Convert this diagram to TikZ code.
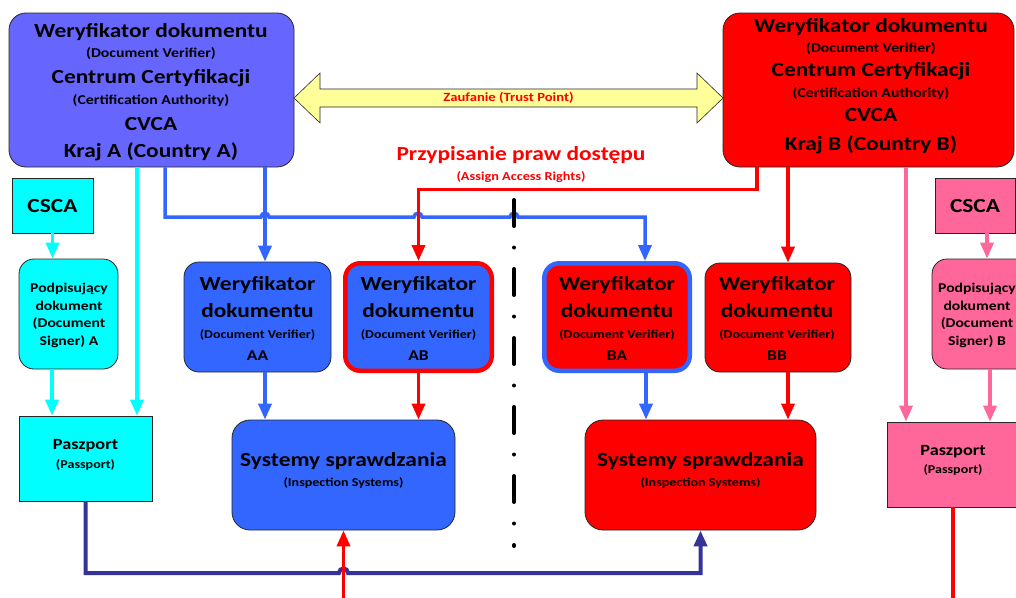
\documentclass[tikz,border=0pt]{standalone}
\usepackage{fontspec}
\setmainfont{Carlito}[FakeStretch=1.17]
\usetikzlibrary{arrows.meta}
\definecolor{cvafill}{HTML}{6666FF}
\definecolor{dvblue}{HTML}{3366FF}
\definecolor{dvred}{HTML}{FF0000}
\definecolor{aqua}{HTML}{00FFFF}
\definecolor{rose}{HTML}{FF6699}
\definecolor{navy}{HTML}{333399}
\definecolor{trustyellow}{HTML}{FFFF99}
\definecolor{edge}{HTML}{262626}
\begin{document}
\begin{tikzpicture}[x=1pt,y=-1pt,
  box/.style={draw=edge, line width=0.8pt, inner sep=0pt, rectangle},
  rbox/.style={box, rounded corners=#1},
  txt/.style={anchor=base, inner sep=0pt, outer sep=0pt, font={\fontsize{#1}{#1}\selectfont\bfseries}},
  flow/.style={line width=3.5pt, -{Triangle[width=13pt,length=16pt]}},
  plain/.style={line width=3.5pt},
]
\useasboundingbox (0,0) rectangle (1016,597);
\clip (0,0) rectangle (1016,597);

% ---------- boxes ----------
\node[rbox=17pt, fill=cvafill, minimum width=285pt, minimum height=154pt] (cvA) at (151.5,90) {};
\node[rbox=17pt, fill=dvred, minimum width=291pt, minimum height=154pt] (cvB) at (868.5,90) {};

\node[box, fill=aqua, minimum width=81pt, minimum height=55pt] (cscaA) at (52.5,205.5) {};
\node[rbox=15pt, fill=aqua, minimum width=99pt, minimum height=110pt] (sigA) at (68.5,314) {};
\node[box, fill=aqua, minimum width=133pt, minimum height=85pt] (pasA) at (85.5,458.5) {};

\node[box, fill=rose, minimum width=80pt, minimum height=55pt] (cscaB) at (975,205.5) {};
\node[rbox=15pt, fill=rose, minimum width=99pt, minimum height=110pt] (sigB) at (981.5,314) {};
\node[box, fill=rose, minimum width=132pt, minimum height=85pt] (pasB) at (953,464.5) {};

\node[rbox=15pt, fill=dvblue, minimum width=147pt, minimum height=110pt] (dvAA) at (257.5,317) {};
\node[rbox=15pt, fill=dvblue, draw=dvred, line width=4.5pt, minimum width=146.5pt, minimum height=107.5pt] (dvAB) at (418.5,317) {};
\node[rbox=15pt, fill=dvred, draw=dvblue, line width=4.5pt, minimum width=145.5pt, minimum height=107.5pt] (dvBA) at (617,317) {};
\node[rbox=15pt, fill=dvred, minimum width=146pt, minimum height=109pt] (dvBB) at (778,317.5) {};

\node[rbox=18pt, fill=dvblue, minimum width=223pt, minimum height=110pt] (isA) at (343.5,475) {};
\node[rbox=18pt, fill=dvred, minimum width=231pt, minimum height=110pt] (isB) at (700.5,475) {};

% ---------- trust arrow between the two CVCAs ----------
\draw[fill=trustyellow, draw=edge, line width=0.6pt]
  (294,98) -- (320,73) -- (320,89) -- (697,89) -- (697,73) -- (723,98)
  -- (697,123) -- (697,107) -- (320,107) -- (320,123) -- cycle;
\node[txt=12.5, text=dvred] (trust) at (508.5,101.7) {Zaufanie (Trust Point)};

% ---------- texts ----------
\node[txt=20] (cvA-1) at (151,37) {Weryfikator dokumentu};
\node[txt=13.5] (cvA-2) at (151,57.5) {(Document Verifier)};
\node[txt=20] (cvA-3) at (151,83.5) {Centrum Certyfikacji};
\node[txt=13.5] (cvA-4) at (151,104) {(Certification Authority)};
\node[txt=20] (cvA-5) at (151,130) {CVCA};
\node[txt=20] (cvA-6) at (151,157) {Kraj A (Country A)};

\node[txt=20] (cvB-1) at (871,32.3) {Weryfikator dokumentu};
\node[txt=13.5] (cvB-2) at (871,52.3) {(Document Verifier)};
\node[txt=20] (cvB-3) at (871,76.7) {Centrum Certyfikacji};
\node[txt=13.5] (cvB-4) at (871,97.3) {(Certification Authority)};
\node[txt=20] (cvB-5) at (871,121) {CVCA};
\node[txt=20] (cvB-6) at (871,150) {Kraj B (Country B)};

\node[txt=20, text=dvred] (rights-1) at (521,160.7) {Przypisanie praw dostępu};
\node[txt=12.2, text=dvred] (rights-2) at (521,180.7) {(Assign Access Rights)};

\node[txt=20] (cscaA-t) at (52.5,212.7) {CSCA};
\node[txt=20] (cscaB-t) at (975,212.7) {CSCA};

\node[txt=13.4] (sigA-1) at (69,292.7) {Podpisujący};
\node[txt=13.4] (sigA-2) at (69,310) {dokument};
\node[txt=13.4] (sigA-3) at (69,327.7) {(Document};
\node[txt=13.4] (sigA-4) at (69,345) {Signer) A};
\node[txt=13.4] (sigB-1) at (977,292.7) {Podpisujący};
\node[txt=13.4] (sigB-2) at (977,310) {dokument};
\node[txt=13.4] (sigB-3) at (977,327.7) {(Document};
\node[txt=13.4] (sigB-4) at (977,345) {Signer) B};

\node[txt=15.6] (pasA-1) at (85.5,449) {Paszport};
\node[txt=12] (pasA-2) at (85.5,468) {(Passport)};
\node[txt=15.6] (pasB-1) at (953,455) {Paszport};
\node[txt=12] (pasB-2) at (953,473) {(Passport)};

\node[txt=20] (dvAA-1) at (257.5,290.7) {Weryfikator};
\node[txt=20] (dvAA-2) at (257.5,317.7) {dokumentu};
\node[txt=12] (dvAA-3) at (257.5,338.3) {(Document Verifier)};
\node[txt=15] (dvAA-4) at (257.5,360) {AA};
\node[txt=20] (dvAB-1) at (418.5,290.7) {Weryfikator};
\node[txt=20] (dvAB-2) at (418.5,317.7) {dokumentu};
\node[txt=12] (dvAB-3) at (418.5,338.3) {(Document Verifier)};
\node[txt=15] (dvAB-4) at (418.5,360) {AB};
\node[txt=20] (dvBA-1) at (617,290.7) {Weryfikator};
\node[txt=20] (dvBA-2) at (617,317.7) {dokumentu};
\node[txt=12] (dvBA-3) at (617,338.3) {(Document Verifier)};
\node[txt=15] (dvBA-4) at (617,360) {BA};
\node[txt=20] (dvBB-1) at (777,290.7) {Weryfikator};
\node[txt=20] (dvBB-2) at (777,317.7) {dokumentu};
\node[txt=12] (dvBB-3) at (777,338.3) {(Document Verifier)};
\node[txt=15] (dvBB-4) at (777,360) {BB};

\node[txt=20] (isA-1) at (343.5,466.7) {Systemy sprawdzania};
\node[txt=12] (isA-2) at (343.5,486.5) {(Inspection Systems)};
\node[txt=20] (isB-1) at (700.5,466.7) {Systemy sprawdzania};
\node[txt=12] (isB-2) at (700.5,486.5) {(Inspection Systems)};

% ---------- country A connectors ----------
\draw[flow, aqua] ([xshift=-14.5pt]cvA.south) -- ([xshift=51.5pt]pasA.north);
\draw[flow, aqua] (cscaA.south) -- (cscaA.south |- sigA.north);
\draw[flow, aqua] ([xshift=-16.5pt]sigA.south) -- ([xshift=-33.5pt]pasA.north);

\draw[flow, dvblue] ([xshift=113.5pt]cvA.south) -- ([xshift=7.5pt]dvAA.north);
\draw[flow, dvblue] ([xshift=13.5pt]cvA.south) |- (261,217)
  .. controls (261,212) and (269,212) .. (269,217) -- (414,217)
  .. controls (414,212) and (422,212) .. (422,217) -- (510,217)
  .. controls (510,212) and (518,212) .. (518,217) -| ([xshift=28pt]dvBA.north);
\draw[flow, dvblue] ([xshift=7.5pt]dvAA.south) -- ([xshift=-78.5pt]isA.north);
\draw[flow, dvblue] ([xshift=29pt]dvBA.south) -- ([xshift=-54.5pt]isB.north);

% ---------- country B connectors ----------
\draw[flow, dvred] ([xshift=-111.5pt]cvB.south) -- ++(0,22) -| (dvAB.north);
\draw[flow, dvred] ([xshift=-80.5pt]cvB.south) -- ([xshift=10pt]dvBB.north);
\draw[flow, dvred] (dvAB.south) -- (dvAB.south |- isA.north);
\draw[flow, dvred] ([xshift=10pt]dvBB.south) -- ([xshift=87.5pt]isB.north);

\draw[flow, rose] ([xshift=37.5pt]cvB.south) -- ([xshift=-47pt]pasB.north);
\draw[flow, rose] ([xshift=12pt]cscaB.south) -- ([xshift=12pt]cscaB.south |- sigB.north);
\draw[flow, rose] ([xshift=8.5pt]sigB.south) -- ([xshift=37pt]pasB.north);

% ---------- passport reading paths ----------
\draw[flow, navy, line width=4pt] (pasA.south) |- (339,573)
  .. controls (339,567) and (348,567) .. (348,573) -| (isB.south);
\coordinate (feedA) at (343.5,600);
\draw[flow, dvred] (feedA) -- (isA.south);
\coordinate (exitB) at (953,600);
\draw[plain, dvred] (pasB.south) -- (exitB);

% ---------- border between the two countries ----------
\draw[black, line width=4pt, line cap=round,
  dash pattern=on 26pt off 21.5pt on 0pt off 21.5pt] (514,200) -- (514,546);
\end{tikzpicture}
\end{document}
